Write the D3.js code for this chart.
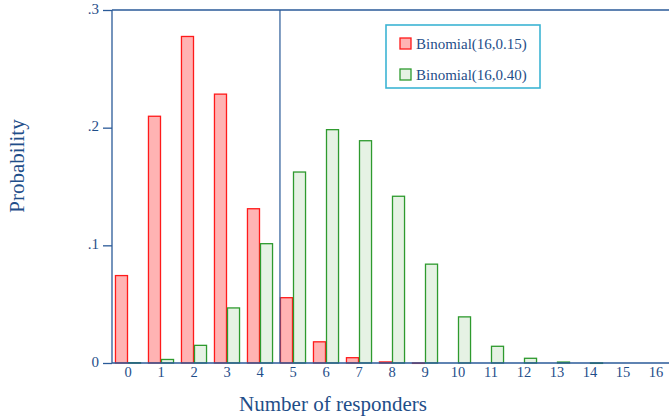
<!DOCTYPE html>
<html lang="en">
<head>
<meta charset="UTF-8">
<title>Binomial distributions</title>
<script src="https://d3js.org/d3.v7.min.js"></script>
<style>
    body { margin: 0; background: #fff; }
    svg text { font-family: "Liberation Serif", "Times New Roman", "DejaVu Serif", serif; fill: #1f4e89; }
</style>
</head>
<body>
<div id="chart"></div>
<script>
    // number of responders (0..16)
    const responders = ["0","1","2","3","4","5","6","7","8","9","10","11","12","13","14","15","16"];
    const seriesNames = ["Binomial(16,0.15)", "Binomial(16,0.40)"];
    const p015 = [0.0743, 0.2097, 0.2775, 0.2285, 0.1311, 0.0555, 0.0180, 0.0045, 0.0009, 0.0001, 0, 0, 0, 0, 0, 0, 0];
    const p040 = [0.0003, 0.0030, 0.0150, 0.0468, 0.1014, 0.1623, 0.1983, 0.1889, 0.1417, 0.0840, 0.0392, 0.0142, 0.0040, 0.0008, 0.0001, 0, 0];
    const yTicks = [0, 0.1, 0.2, 0.3];
    const yTickLabels = ["0", ".1", ".2", ".3"];
    const refLine = "5";

    const width = 669, height = 416;
    const svg = d3.select("#chart").append("svg")
        .attr("width", width)
        .attr("height", height);

    const axisColor = "#2a5a98";
    const fills = ["#ffb3b3", "#e6f2e4"];
    const strokes = ["#ff1a1a", "#2e9a2e"];

    const x = d3.scaleBand().domain(responders).range([111.5, 672.5])
        .paddingInner(0.21).paddingOuter(0.105);
    const sub = d3.scaleBand().domain([0, 1]).range([0, x.bandwidth()]);
    const y = d3.scaleLinear().domain([0, 0.3]).range([363, 10]);

    const rows = responders.map((r, i) => ({r, v: [p015[i], p040[i]]}));

    // bars
    const groups = svg.selectAll(".grp").data(rows).enter().append("g")
        .attr("transform", d => `translate(${x(d.r)},0)`);
    groups.selectAll("rect").data(d => d.v.map((v, k) => ({v, k})))
        .enter().append("rect")
        .filter(d => d.v > 0)
        .attr("x", d => sub(d.k) + 0.5)
        .attr("width", sub.bandwidth() - 1)
        .attr("y", d => y(d.v))
        .attr("height", d => Math.max(0.5, y(0) - y(d.v)))
        .style("fill", d => fills[d.k])
        .style("stroke", d => strokes[d.k])
        .style("stroke-width", 1.3);

    // y axis
    const yAxis = svg.append("g")
        .attr("transform", "translate(112,0)")
        .call(d3.axisLeft(y).tickValues(yTicks).tickFormat((d, i) => yTickLabels[i]).tickSize(9).tickPadding(4));
    yAxis.select(".domain").attr("d", `M0,${y(0)}V${y(0.3)}`);
    yAxis.selectAll("text").style("font-size", "15px").attr("dy", "0.2em");

    // x axis
    const xAxis = svg.append("g")
        .attr("transform", `translate(0,${y(0)})`)
        .call(d3.axisBottom(x).tickSize(0).tickPadding(4));
    xAxis.select(".domain").attr("d", `M112,0H${width}`);
    xAxis.selectAll(".tick").attr("transform", d => `translate(${x(d) + x.bandwidth() / 2},0)`);
    xAxis.selectAll("text").style("font-size", "14.5px").attr("dy", "0.7em");

    svg.selectAll(".domain, .tick line").style("stroke", axisColor).style("stroke-width", 1.3);

    // top frame and reference line
    svg.append("line").attr("x1", 112).attr("x2", width).attr("y1", y(0.3)).attr("y2", y(0.3))
        .style("stroke", axisColor).style("stroke-width", 1.3);
    svg.append("line").attr("x1", x(refLine)).attr("x2", x(refLine)).attr("y1", y(0.3)).attr("y2", y(0))
        .style("stroke", axisColor).style("stroke-width", 1.2);

    // axis titles
    svg.append("text").attr("transform", "translate(24,166) rotate(-90)")
        .attr("text-anchor", "middle").style("font-size", "21px").text("Probability");
    svg.append("text").attr("x", 333).attr("y", 411)
        .attr("text-anchor", "middle").style("font-size", "21px").text("Number of responders");

    // legend
    const legend = svg.append("g").attr("transform", "translate(386,25)");
    legend.append("rect").attr("width", 154).attr("height", 63)
        .style("fill", "#fff").style("stroke", "#3cb4d4").style("stroke-width", 1.6);
    seriesNames.forEach((name, k) => {
        const row = legend.append("g").attr("transform", `translate(14,${13 + k * 31})`);
        row.append("rect").attr("width", 11).attr("height", 11)
            .style("fill", fills[k]).style("stroke", strokes[k]).style("stroke-width", 1.3);
        row.append("text").attr("x", 16).attr("y", 10.5).style("font-size", "15px").text(name);
    });
</script>
</body>
</html>
